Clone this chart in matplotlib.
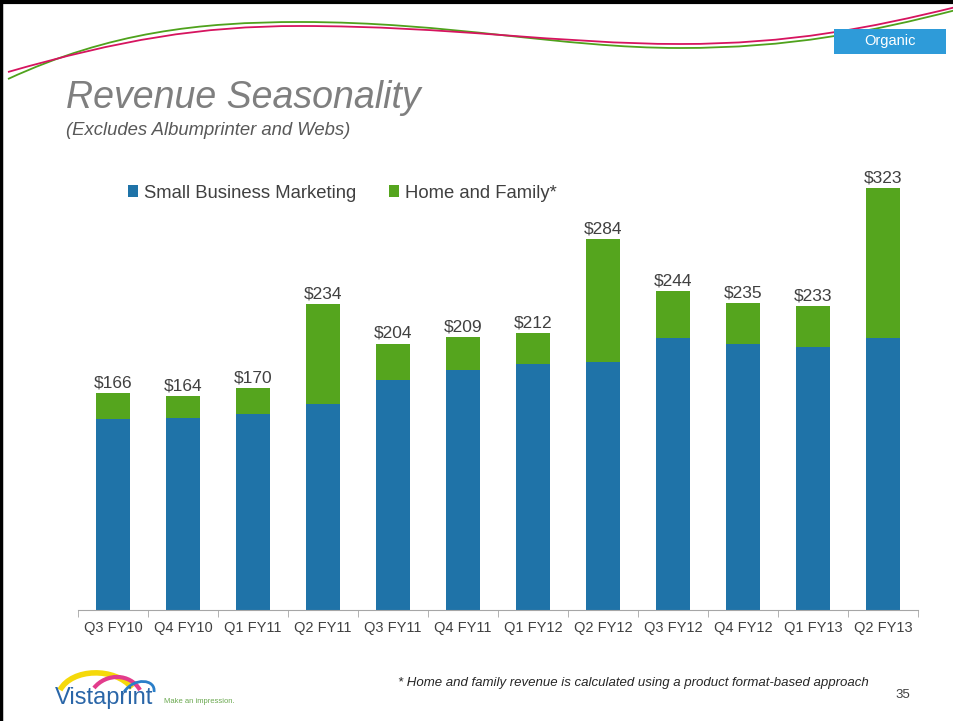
import matplotlib
matplotlib.use("Agg")
import matplotlib.pyplot as plt
from matplotlib.path import Path
from matplotlib.patches import PathPatch, Rectangle
import numpy as np

# =========================================
# DATA
# =========================================

quarters = ["Q3 FY10", "Q4 FY10", "Q1 FY11", "Q2 FY11", "Q3 FY11", "Q4 FY11",
            "Q1 FY12", "Q2 FY12", "Q3 FY12", "Q4 FY12", "Q1 FY13", "Q2 FY13"]
totals = [166, 164, 170, 234, 204, 209, 212, 284, 244, 235, 233, 323]
small_business = [146, 147, 150, 158, 176, 184, 188, 190, 208, 204, 201, 208]
home_family = [t - s for t, s in zip(totals, small_business)]

BLUE = "#1f73a8"
GREEN = "#55a51e"
TEXT = "#404040"

plt.rcParams['font.family'] = ['Liberation Sans', 'DejaVu Sans']

fig = plt.figure(figsize=(9.54, 7.21), dpi=100)

# =========================================
# BACKGROUND DECORATION (pixel coords)
# =========================================

bg = fig.add_axes([0, 0, 1, 1], zorder=0)
bg.set_xlim(0, 954)
bg.set_ylim(721, 0)
bg.axis("off")

# slide border
bg.plot([1, 1], [0, 721], color="black", lw=2.5)
bg.plot([0, 954], [1.5, 1.5], color="black", lw=3)

curve_codes = [Path.MOVETO] + [Path.CURVE4] * 9
magenta_pts = [(8, 72), (120, 40), (200, 26), (300, 26),
               (450, 26), (560, 44), (680, 44),
               (790, 44), (870, 28), (956, 7)]
green_pts = [(8, 79), (110, 32), (200, 22), (300, 22),
             (450, 22), (560, 48), (680, 48),
             (790, 48), (870, 32), (956, 10)]
bg.add_patch(PathPatch(Path(green_pts, curve_codes), fill=False,
                       edgecolor="#4fa21c", lw=1.3))
bg.add_patch(PathPatch(Path(magenta_pts, curve_codes), fill=False,
                       edgecolor="#d6145f", lw=1.3))

# "Organic" tag
bg.add_patch(Rectangle((834, 29), 112, 25, facecolor="#2e9bd9",
                       edgecolor="none", zorder=3))
bg.text(890, 41.5, "Organic", color="white", fontsize=10.5,
        ha="center", va="center", zorder=4)

# title block
bg.text(66, 108, "Revenue Seasonality", fontsize=27, style="italic",
        color="#7f7f7f", ha="left", va="baseline")
bg.text(66, 135, "(Excludes Albumprinter and Webs)", fontsize=13.3,
        style="italic", color="#595959", ha="left", va="baseline")

# footnote and page number
bg.text(398, 686, "* Home and family revenue is calculated using a product "
        "format-based approach", fontsize=9.5, style="italic",
        color="#262626", ha="left", va="baseline")
bg.text(903, 698, "35", fontsize=9.5, color="#404040", ha="center",
        va="baseline")

# logo
arc_codes = [Path.MOVETO, Path.CURVE4, Path.CURVE4, Path.CURVE4]
bg.add_patch(PathPatch(Path([(60, 690), (72, 668), (115, 667), (132, 688)],
                            arc_codes), fill=False, edgecolor="#f5d90a", lw=4))
bg.add_patch(PathPatch(Path([(94, 688), (106, 673), (130, 673), (140, 690)],
                            arc_codes), fill=False, edgecolor="#e23c8c", lw=3))
bg.add_patch(PathPatch(Path([(124, 692), (134, 677), (156, 679), (154, 692)],
                            arc_codes), fill=False, edgecolor="#2a7fc9", lw=2))
bg.text(55, 704, "Vistaprint", fontsize=17, color="#2a66a8",
        ha="left", va="baseline", zorder=5)
bg.text(164, 703, "Make an impression.", fontsize=5.5, color="#6aa84f",
        ha="left", va="baseline")

# =========================================
# BAR CHART
# =========================================

ax = fig.add_axes([78 / 954, 111 / 721, 840 / 954, 431 / 721], zorder=1)
ax.patch.set_alpha(0)

x = np.arange(len(quarters))
ax.bar(x, small_business, width=0.49, color=BLUE, label="Small Business Marketing")
ax.bar(x, home_family, width=0.49, bottom=small_business, color=GREEN,
       label="Home and Family*")

for xi, t in zip(x, totals):
    ax.text(xi, t + 2, "$%d" % t, ha="center", va="bottom", fontsize=12.5,
            color=TEXT)

ax.set_xlim(-0.5, len(quarters) - 0.5)
ax.set_ylim(0, 330)
ax.set_yticks([])
ax.set_xticks(x)
ax.set_xticklabels(quarters, fontsize=10.5, color=TEXT)
ax.set_xticks(np.arange(-0.5, len(quarters)), minor=True)
ax.tick_params(axis="x", which="major", length=0, pad=8)
ax.tick_params(axis="x", which="minor", length=5, color="#a6a6a6")

for side in ["top", "right", "left"]:
    ax.spines[side].set_visible(False)
ax.spines["bottom"].set_color("#a6a6a6")

ax.legend(loc="center left", bbox_to_anchor=(0.0595, 0.9675), ncol=2,
          frameon=False, fontsize=13.3, handlelength=0.55, handleheight=0.55,
          handletextpad=0.3, columnspacing=1.8, borderpad=0,
          borderaxespad=0, labelcolor=TEXT)

fig.savefig("out.png", dpi=100)
